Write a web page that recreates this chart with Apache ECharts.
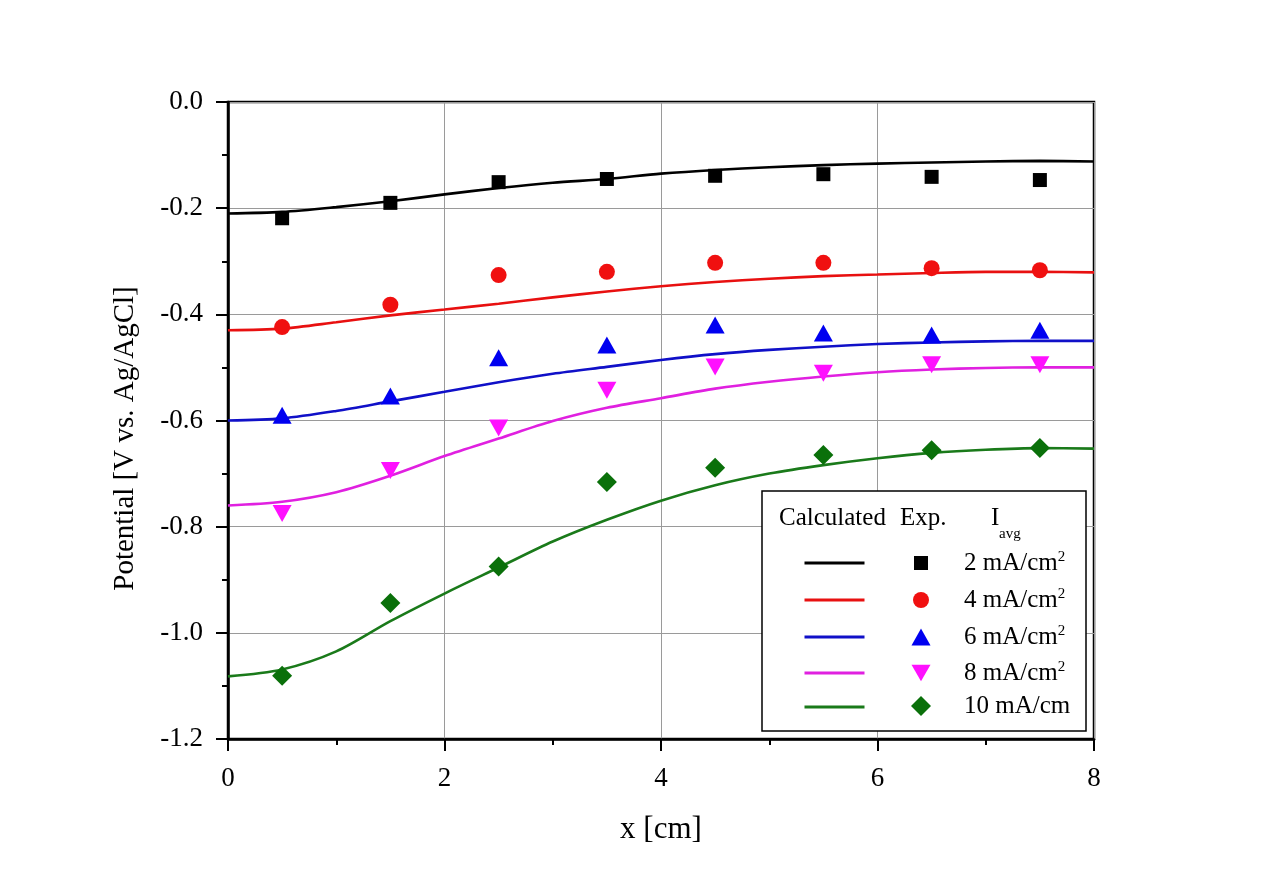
<!DOCTYPE html>
<html><head><meta charset="utf-8">
<script src="https://cdn.jsdelivr.net/npm/echarts@6/dist/echarts.min.js"></script>
<style>html,body{margin:0;padding:0;background:#fff}#c{width:1271px;height:887px}</style>
</head><body><div id="c"></div>
<script>
// ---- data ----
const xExp = [0.5, 1.5, 2.5, 3.5, 4.5, 5.5, 6.5, 7.5];
const xCalc = [0, 0.5, 1, 1.5, 2, 2.5, 3, 3.5, 4, 4.5, 5, 5.5, 6, 6.5, 7, 7.5, 8];

const labelText = ['2 mA/cm', '4 mA/cm', '6 mA/cm', '8 mA/cm', '10 mA/cm'];
const labelSup  = ['2', '2', '2', '2', ''];

const exp2  = [-0.219, -0.190, -0.151, -0.145, -0.139, -0.136, -0.141, -0.147];
const exp4  = [-0.424, -0.382, -0.326, -0.320, -0.303, -0.303, -0.313, -0.317];
const exp6  = [-0.590, -0.554, -0.482, -0.458, -0.420, -0.435, -0.439, -0.430];
const exp8  = [-0.775, -0.694, -0.614, -0.543, -0.499, -0.511, -0.495, -0.495];
const exp10 = [-1.081, -0.944, -0.875, -0.716, -0.689, -0.665, -0.656, -0.652];

const calc2  = [-0.210, -0.207, -0.198, -0.187, -0.174, -0.162, -0.152, -0.145, -0.135, -0.128, -0.123, -0.119, -0.116, -0.114, -0.112, -0.111, -0.112];
const calc4  = [-0.430, -0.427, -0.415, -0.402, -0.391, -0.380, -0.368, -0.357, -0.347, -0.339, -0.333, -0.328, -0.325, -0.322, -0.320, -0.320, -0.321];
const calc6  = [-0.600, -0.596, -0.582, -0.564, -0.546, -0.528, -0.512, -0.499, -0.486, -0.475, -0.467, -0.461, -0.456, -0.453, -0.451, -0.450, -0.450];
const calc8  = [-0.760, -0.753, -0.735, -0.704, -0.667, -0.634, -0.601, -0.576, -0.558, -0.540, -0.527, -0.517, -0.509, -0.504, -0.501, -0.500, -0.500];
const calc10 = [-1.082, -1.069, -1.035, -0.978, -0.926, -0.877, -0.828, -0.787, -0.751, -0.722, -0.700, -0.684, -0.671, -0.661, -0.655, -0.652, -0.653];

const xTicks = [0, 2, 4, 6, 8];
const yTicks = [0.0, -0.2, -0.4, -0.6, -0.8, -1.0, -1.2];

// ---- styles ----
const FONT = 'Liberation Serif';
const lineColors = ['#000000', '#e81010', '#1010c8', '#e020e0', '#1a7a1a'];
const markColors = ['#000000', '#f01010', '#0000f0', '#ff10ff', '#0a700a'];
const symbols = ['rect', 'circle', 'triangle', 'path://M0,0L20,0L10,17.5Z', 'diamond'];
const symSizes = [[14, 14], [16, 16], [19, 17], [19, 17], [20, 20]];

const expSets = [exp2, exp4, exp6, exp8, exp10];
const calcSets = [calc2, calc4, calc6, calc8, calc10];

const names = labelText.map((t, i) => t + labelSup[i]);
const series = [];
calcSets.forEach((arr, i) => {
  series.push({
    name: 'Calculated ' + names[i], type: 'line', smooth: 0.3, symbol: 'none', showSymbol: false,
    data: xCalc.map((x, k) => [x, arr[k]]),
    lineStyle: { color: lineColors[i], width: 2.6 }, itemStyle: { color: lineColors[i] }, z: 2
  });
});
expSets.forEach((arr, i) => {
  series.push({
    name: names[i], type: 'scatter', symbol: symbols[i], symbolSize: symSizes[i],
    data: xExp.map((x, k) => [x, arr[k]]),
    itemStyle: { color: markColors[i], opacity: 1 }, z: 3
  });
});

// legend rows (layout)
const rowY = [563, 600, 637, 673, 707];
const legends = [];
rowY.forEach((y, i) => {
  legends.push({
    data: ['Calculated ' + names[i]], left: 803, top: y - 10, padding: 0,
    itemWidth: 60, itemHeight: 20, selectedMode: false, z: 10,
    formatter: () => '',
    itemStyle: { color: 'transparent', borderColor: 'transparent', borderWidth: 0 },
    lineStyle: { width: 3 },
    textStyle: { fontSize: 1 }
  });
  const w = symSizes[i][0], h = symSizes[i][1];
  legends.push({
    data: [names[i]], left: 921 - w / 2, top: y - 13, padding: 0,
    itemWidth: w, itemHeight: h, selectedMode: false, z: 10,
    formatter: name => {
      const k = names.indexOf(name);
      return '{n|' + labelText[k] + '}' + (labelSup[k] ? '{s|' + labelSup[k] + '}' : '');
    },
    textStyle: {
      fontFamily: FONT, fontSize: 25, color: '#000', padding: [0, 0, 0, 964 - (921 + w / 2 + 5)],
      rich: {
        n: { fontFamily: FONT, fontSize: 25, color: '#000', lineHeight: 26, verticalAlign: 'bottom' },
        s: { fontFamily: FONT, fontSize: 15, color: '#000', lineHeight: 15, verticalAlign: 'top' }
      }
    }
  });
});

const axisCommon = {
  axisLine: { show: true, onZero: false, lineStyle: { color: '#000', width: 2.5 } },
  axisTick: { show: true, inside: false, length: 12, lineStyle: { color: '#000', width: 2 } },
  minorTick: { show: true, splitNumber: 2, length: 6, lineStyle: { color: '#000', width: 2 } },
  splitLine: { show: true, lineStyle: { color: '#9a9a9a', width: 1 } },
  minorSplitLine: { show: false }
};

const chart = echarts.init(document.getElementById('c'), null, { renderer: 'canvas' });
chart.setOption({
  backgroundColor: '#fff',
  animation: false,
  grid: { left: 228, right: 177, top: 102, bottom: 148, show: true, borderColor: '#000', borderWidth: 2.5, backgroundColor: 'transparent' },
  xAxis: Object.assign({
    type: 'value', min: xTicks[0], max: xTicks[xTicks.length - 1], interval: 2,
    name: 'x [cm]', nameLocation: 'middle', nameGap: 75,
    nameTextStyle: { fontFamily: FONT, fontSize: 31, color: '#000' },
    axisLabel: { fontFamily: FONT, fontSize: 27, color: '#000', margin: 26 }
  }, axisCommon),
  yAxis: Object.assign({
    type: 'value', min: yTicks[yTicks.length - 1], max: yTicks[0], interval: 0.2,
    name: 'Potential [V vs. Ag/AgCl]', nameLocation: 'middle', nameGap: 88,
    nameTextStyle: { fontFamily: FONT, fontSize: 29, color: '#000', padding: [0, 36, 0, 0] },
    axisLabel: { fontFamily: FONT, fontSize: 27, color: '#000', margin: 25, formatter: v => (Math.abs(v) < 1e-9 ? 0 : v).toFixed(1) }
  }, axisCommon),
  legend: legends,
  graphic: [
    { type: 'rect', z: 5, shape: { x: 762, y: 491, width: 324, height: 240 }, style: { fill: '#fff', stroke: '#000', lineWidth: 1.5 } },
    { type: 'text', z: 6, x: 779, y: 518, style: { text: 'Calculated', fontFamily: FONT, fontSize: 25, fill: '#000', verticalAlign: 'middle' } },
    { type: 'text', z: 6, x: 900, y: 518, style: { text: 'Exp.', fontFamily: FONT, fontSize: 25, fill: '#000', verticalAlign: 'middle' } },
    { type: 'text', z: 6, x: 991, y: 518, style: { text: 'I', fontFamily: FONT, fontSize: 25, fill: '#000', verticalAlign: 'middle' } },
    { type: 'text', z: 6, x: 999, y: 534, style: { text: 'avg', fontFamily: FONT, fontSize: 15, fill: '#000', verticalAlign: 'middle' } }
  ],
  series: series
});
</script>
</body></html>
